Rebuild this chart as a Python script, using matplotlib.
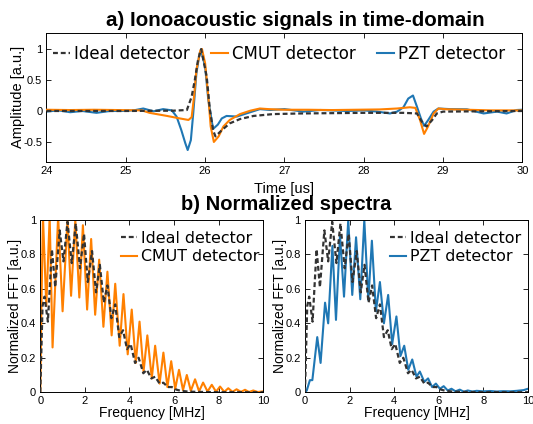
import matplotlib
matplotlib.use('Agg')
import matplotlib.pyplot as plt

# ---- a) time-domain signals (time in us, amplitude in a.u.) ----
t_ideal = [24.0, 25.0, 25.6, 25.77, 25.83, 25.87, 25.91, 25.95, 26.02, 26.06,
           26.10, 26.13, 26.21, 26.31, 26.44, 26.61, 26.86, 27.2, 27.6, 28.0,
           28.5, 28.67, 28.73, 28.79, 28.86, 28.92, 29.0, 29.5, 30.0]
a_ideal = [0.0, 0.0, 0.005, 0.016, 0.23, 0.5, 0.82, 1.0, 0.55, 0.02,
           -0.31, -0.41, -0.31, -0.2, -0.13, -0.08, -0.05, -0.04, -0.035, -0.03,
           -0.03, -0.04, -0.17, -0.25, -0.15, -0.04, -0.01, -0.005, 0.0]

t_cmut = [24.0, 24.3, 24.6, 24.9, 25.2, 25.3, 25.52, 25.68, 25.79, 25.83,
          25.86, 25.89, 25.94, 25.96, 26.0, 26.04, 26.07, 26.11, 26.17, 26.23,
          26.31, 26.44, 26.57, 26.69, 26.8, 27.0, 27.3, 27.6, 27.9, 28.2,
          28.42, 28.58, 28.65, 28.71, 28.76, 28.81, 28.88, 28.94, 29.05, 29.3,
          29.6, 30.0]
a_cmut = [0.02, 0.015, 0.02, 0.015, 0.01, -0.03, -0.08, -0.12, -0.145, -0.1,
          0.23, 0.66, 0.98, 1.0, 0.77, 0.23, -0.25, -0.5, -0.41, -0.25,
          -0.145, -0.05, 0.005, 0.04, 0.03, 0.02, 0.02, 0.015, 0.02, 0.025,
          0.04, 0.06, 0.05, -0.15, -0.37, -0.25, -0.04, 0.04, 0.027, 0.02,
          0.01, 0.01]

t_pzt = [24.0, 24.15, 24.3, 24.45, 24.63, 24.8, 24.95, 25.1, 25.22, 25.35,
         25.47, 25.58, 25.64, 25.7, 25.75, 25.78, 25.82, 25.85, 25.89, 25.93,
         25.95, 26.0, 26.04, 26.10, 26.16, 26.21, 26.27, 26.40, 26.52, 26.69,
         26.82, 27.0, 27.24, 27.45, 27.79, 28.0, 28.17, 28.33, 28.42, 28.5,
         28.56, 28.62, 28.67, 28.72, 28.76, 28.81, 28.88, 28.94, 29.09, 29.3,
         29.51, 29.68, 29.8, 29.93, 30.0]
a_pzt = [-0.01, 0.01, -0.02, 0.0, -0.03, 0.0, 0.0, 0.01, 0.04, -0.005,
         0.03, 0.01, -0.09, -0.31, -0.52, -0.63, -0.47, -0.04, 0.61, 0.93,
         0.98, 0.71, 0.18, -0.29, -0.22, -0.12, -0.08, -0.09, -0.04, 0.03,
         0.016, 0.03, -0.01, 0.016, 0.0, 0.01, -0.01, -0.04, -0.01, 0.06,
         0.2, 0.25, 0.07, -0.12, -0.24, -0.15, -0.01, 0.04, 0.03, 0.027,
         -0.04, -0.01, -0.04, 0.016, 0.02]

# ---- b) normalized spectra (frequency in MHz) ----
f_ideal = [0, 0.05, 0.1, 0.19, 0.34, 0.52, 0.67, 0.87, 1.04, 1.22,
           1.41, 1.59, 1.78, 1.96, 2.13, 2.32, 2.5, 2.67, 2.85, 3.01,
           3.19, 3.36, 3.54, 3.71, 3.89, 4.05, 4.25, 4.41, 4.62, 4.78,
           4.98, 5.15, 5.35, 5.52, 5.72, 5.9, 6.1, 6.3, 6.6, 7.0, 8.0, 10.0]
s_ideal = [0, 0.25, 0.50, 0.555, 0.41, 0.83, 0.61, 0.94, 0.76, 0.99,
           0.75, 0.98, 0.72, 0.92, 0.64, 0.82, 0.58, 0.74, 0.52, 0.62,
           0.43, 0.51, 0.32, 0.36, 0.25, 0.28, 0.17, 0.20, 0.11, 0.13,
           0.08, 0.09, 0.05, 0.055, 0.03, 0.03, 0.015, 0.008, 0.004, 0.002, 0.0, 0.0]

f_cmut = [0, 0.05, 0.12, 0.27, 0.42, 0.55, 0.8, 1.0, 1.22, 1.38,
          1.57, 1.75, 1.91, 2.1, 2.28, 2.46, 2.64, 2.83, 3.01, 3.2,
          3.36, 3.56, 3.73, 3.92, 4.1, 4.28, 4.45, 4.63, 4.8, 5.0,
          5.15, 5.35, 5.52, 5.7, 5.87, 6.05, 6.22, 6.4, 6.57, 6.75,
          6.94, 7.12, 7.3, 7.5, 7.69, 7.88, 8.06, 8.25, 8.43, 8.62,
          8.8, 9.0, 9.18, 9.36, 9.55, 9.75, 10]
s_cmut = [0, 0.5, 1.02, 0.5, 1.02, 0.26, 1.02, 0.47, 1.0, 0.56,
          1.0, 0.55, 0.97, 0.48, 0.89, 0.45, 0.77, 0.38, 0.70, 0.33,
          0.63, 0.27, 0.57, 0.22, 0.48, 0.17, 0.41, 0.12, 0.33, 0.08,
          0.27, 0.05, 0.23, 0.03, 0.18, 0.02, 0.13, 0.012, 0.10, 0.008,
          0.075, 0.005, 0.056, 0.004, 0.043, 0.003, 0.033, 0.002, 0.023, 0.002,
          0.017, 0.002, 0.014, 0.001, 0.01, 0.001, 0.005]

f_pzt = [0, 0.08, 0.15, 0.22, 0.33, 0.55, 0.70, 0.9, 1.04, 1.23,
         1.39, 1.57, 1.75, 1.94, 2.12, 2.29, 2.48, 2.66, 2.84, 3.0,
         3.18, 3.36, 3.54, 3.73, 3.91, 4.1, 4.28, 4.45, 4.63, 4.81,
         5.0, 5.15, 5.35, 5.52, 5.7, 5.87, 6.05, 6.22, 6.4, 6.57,
         6.75, 6.94, 7.12, 7.3, 7.5, 7.7, 8.0, 8.3, 8.6, 8.9,
         9.2, 9.5, 9.8, 10]
s_pzt = [0, 0.01, 0.04, 0.07, 0.07, 0.32, 0.17, 0.52, 0.40, 0.85,
         0.42, 0.91, 0.555, 1.0, 0.565, 0.90, 0.54, 1.0, 0.535, 0.88,
         0.47, 0.64, 0.40, 0.565, 0.28, 0.44, 0.21, 0.27, 0.13, 0.19,
         0.09, 0.12, 0.06, 0.08, 0.03, 0.05, 0.02, 0.035, 0.01, 0.02,
         0.005, 0.015, 0.003, 0.01, 0.004, 0.008, 0.005, 0.007, 0.004, 0.006,
         0.005, 0.008, 0.012, 0.02]

BLACK = '#333333'
ORANGE = '#ff8000'
BLUE = '#1f77b4'
DASH = (0, (2.2, 1.3))
TICK_FONT = 'Liberation Sans'


def style_axes(ax):
    ax.tick_params(direction='in', length=3.5, width=0.6, top=True, right=True,
                   labelsize=8, pad=3)
    for lab in ax.get_xticklabels() + ax.get_yticklabels():
        lab.set_fontfamily(TICK_FONT)
    for sp in ax.spines.values():
        sp.set_linewidth(0.7)


def main():
    plt.rcParams['axes.unicode_minus'] = False
    fig = plt.figure(figsize=(5.33, 4.24), dpi=100)

    # Top: time-domain signals
    ax = fig.add_axes([0.0872, 0.6184, 0.893, 0.304])
    ax.plot(t_pzt, a_pzt, color=BLUE, lw=1.5, label='PZT detector', zorder=2)
    ax.plot(t_cmut, a_cmut, color=ORANGE, lw=1.5, label='CMUT detector', zorder=3)
    ax.plot(t_ideal, a_ideal, color=BLACK, lw=1.6, linestyle=DASH,
            label='Ideal detector', zorder=4)
    ax.set_xlim(24, 30)
    ax.set_ylim(-0.82, 1.26)
    ax.set_xticks([24, 25, 26, 27, 28, 29, 30])
    ax.set_xticklabels(['24', '25', '26', '27', '28', '29', '30'])
    ax.set_yticks([-0.5, 0, 0.5, 1])
    ax.set_yticklabels(['-0.5', '0', '0.5', '1'])
    style_axes(ax)
    ax.set_xlabel('Time [us]', fontsize=10.5, family=TICK_FONT, labelpad=4)
    ax.set_ylabel('Amplitude [a.u.]', fontsize=10.5, family=TICK_FONT, labelpad=-1)
    h, l = ax.get_legend_handles_labels()
    ax.legend(h[::-1], l[::-1], ncol=3, loc='center left', frameon=False,
              bbox_to_anchor=(52.9 / 533, 1 - 54 / 424), bbox_transform=fig.transFigure,
              borderpad=0, borderaxespad=0, handlelength=1.0, handletextpad=0.25,
              columnspacing=1.3, prop={'family': 'DejaVu Sans', 'size': 12})

    # Bottom: normalized spectra
    panels = [(0.0756, f_cmut, s_cmut, ORANGE, 'CMUT detector', 138),
              (0.5722, f_pzt, s_pzt, BLUE, 'PZT detector', 407)]
    for left, f, s, col, name, lx in panels:
        bx = fig.add_axes([left, 0.075, 0.4184, 0.406])
        bx.plot(f, s, color=col, lw=1.5, label=name, zorder=2)
        bx.plot(f_ideal, s_ideal, color=BLACK, lw=1.6, linestyle=DASH,
                label='Ideal detector', zorder=3)
        bx.set_xlim(0, 10)
        bx.set_ylim(0, 1)
        bx.set_xticks([0, 2, 4, 6, 8, 10])
        bx.set_xticklabels(['0', '2', '4', '6', '8', '10'])
        bx.set_yticks([0, 0.2, 0.4, 0.6, 0.8, 1])
        bx.set_yticklabels(['0', '0.2', '0.4', '0.6', '0.8', '1'])
        style_axes(bx)
        bx.set_xlabel('Frequency [MHz]', fontsize=10, family=TICK_FONT, labelpad=0)
        bx.set_ylabel('Normalized FFT [a.u.]', fontsize=10, family=TICK_FONT, labelpad=-1)
        h, l = bx.get_legend_handles_labels()
        bx.legend(h[::-1], l[::-1], loc='center left', frameon=False,
                  bbox_to_anchor=((lx - 17) / 533, 1 - 247.5 / 424),
                  bbox_transform=fig.transFigure, borderpad=0, borderaxespad=0,
                  handlelength=1.0, handletextpad=0.25, labelspacing=0.25,
                  prop={'family': 'DejaVu Sans', 'size': 11.4})

    fig.text(295 / 533, 1 - 20.5 / 424, 'a) Ionoacoustic signals in time-domain',
             ha='center', va='center', fontsize=14.8, fontweight='bold',
             family='Liberation Sans')
    fig.text(286 / 533, 1 - 205 / 424, 'b) Normalized spectra',
             ha='center', va='center', fontsize=14.5, fontweight='bold',
             family='Liberation Sans')

    fig.savefig('out.png', dpi=100)


if __name__ == "__main__":
    main()
